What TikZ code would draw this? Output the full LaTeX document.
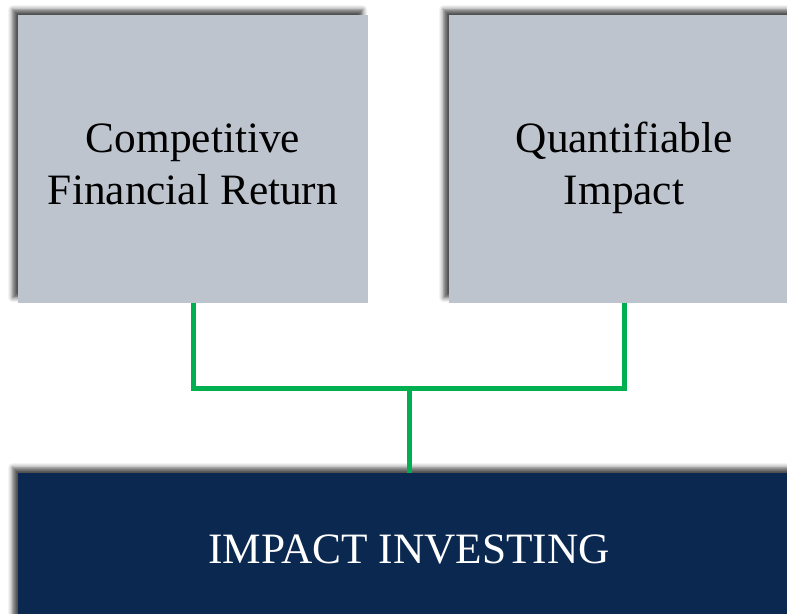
\documentclass[tikz,border=0pt]{standalone}
\usepackage{fontspec}
\setmainfont{Liberation Serif}
\usetikzlibrary{shadows.blur}
\definecolor{pillargray}{HTML}{BEC4CE}
\definecolor{basenavy}{HTML}{0A2850}
\definecolor{linkgreen}{HTML}{00B050}

\begin{document}
\begin{tikzpicture}[x=0.75pt,y=-0.75pt,
  boxshadow/.style={blur shadow={shadow xshift=-4pt,shadow yshift=4pt,shadow blur radius=3.5pt,shadow opacity=70}},
  pillar/.style={boxshadow,fill=pillargray,minimum width=262.5pt,minimum height=216pt,inner sep=0pt,align=center,font=\fontsize{32.5}{39}\selectfont,text height=67.5pt,text depth=0pt},
  base/.style={boxshadow,fill=basenavy,text=white,minimum width=586.5pt,minimum height=112.5pt,inner sep=0pt,font=\fontsize{32.5}{39}\selectfont,text height=22.5pt,text depth=0pt},
  link/.style={draw=linkgreen,line width=3.75pt,line join=miter}]
\useasboundingbox (0,0) rectangle (787,613);
\clip (0,0) rectangle (787,613);

\node [pillar] (fin) at (193,159) {Competitive\\Financial Return};
\node [pillar] (quant) at (624,159) {Quantifiable\\Impact};
\node [base] (invest) at (409,548) {IMPACT INVESTING};

\coordinate (join) at (409,388);
\draw [link] (fin.south) |- (join) -| (quant.south);
\draw [link] (join) -- (invest.north);

\end{tikzpicture}
\end{document}
